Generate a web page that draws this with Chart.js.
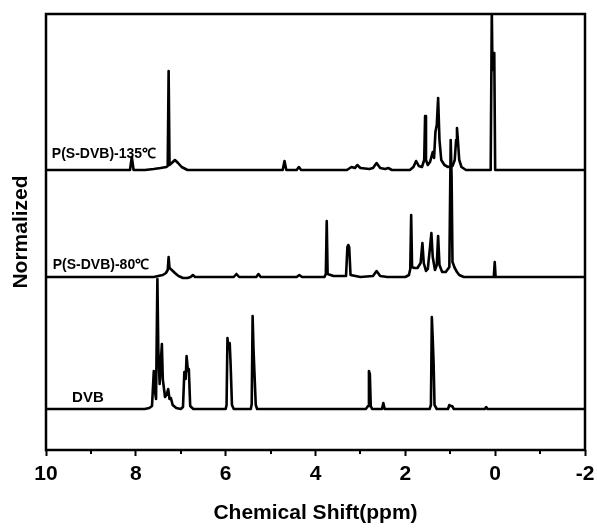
<!DOCTYPE html>
<html>
<head>
<meta charset="utf-8">
<script src="https://cdn.jsdelivr.net/npm/chart.js@4/dist/chart.umd.min.js"></script>
<style>
  html, body { margin: 0; padding: 0; background: #fff; }
  #wrap { width: 597px; height: 529px; }
</style>
</head>
<body>
<div id="wrap"><canvas id="nmrChart"></canvas></div>
<script>
// 1H NMR spectra, [chemical shift (ppm), intensity above baseline]
const dvbSpectrum = [
  [10, 0], [7.8, 0], [7.7, 1], [7.64, 3], [7.6, 38], [7.58, 20], [7.55, 10], [7.52, 130],
  [7.5, 60], [7.47, 25], [7.44, 50], [7.42, 65], [7.4, 30], [7.35, 12], [7.31, 15], [7.28, 20],
  [7.25, 10], [7.22, 11], [7.18, 4], [7.1, 1], [7.0, 0], [6.95, 2], [6.92, 37], [6.89, 30],
  [6.87, 53], [6.84, 38], [6.82, 40], [6.79, 3], [6.72, 0], [6.0, 0], [5.98, 4], [5.96, 71],
  [5.94, 60], [5.91, 66], [5.89, 45], [5.86, 4], [5.82, 0], [5.44, 0], [5.42, 5], [5.4, 93],
  [5.38, 60], [5.36, 37], [5.33, 4], [5.3, 0], [2.88, 0], [2.83, 3], [2.81, 38], [2.79, 35],
  [2.77, 3], [2.74, 0], [2.52, 0], [2.49, 6], [2.46, 0], [1.46, 0], [1.43, 4], [1.41, 92],
  [1.39, 70], [1.37, 45], [1.35, 4], [1.3, 0], [1.05, 0], [1.02, 4], [0.99, 3], [0.96, 3],
  [0.92, 0], [0.23, 0], [0.2, 2], [0.17, 0], [-2, 0]
];

const dvb80Spectrum = [
  [10, 0], [7.6, 0], [7.5, 1], [7.4, 2], [7.33, 4], [7.29, 7], [7.27, 20], [7.25, 9],
  [7.2, 7], [7.13, 4], [7.05, 1], [6.95, -1], [6.85, -1], [6.78, 0], [6.73, 2], [6.68, 0],
  [5.82, 0], [5.76, 3], [5.7, 0], [5.32, 0], [5.27, 3], [5.22, 0], [4.42, 0], [4.36, 2],
  [4.3, 0], [3.8, 0], [3.77, 3], [3.75, 56], [3.73, 3], [3.6, 1], [3.32, 1], [3.29, 30],
  [3.27, 32], [3.25, 30], [3.22, 2], [3.0, 0], [2.72, 1], [2.64, 6], [2.56, 1], [2.4, 0],
  [2.0, 0], [1.92, 2], [1.89, 8], [1.87, 62], [1.85, 10], [1.8, 9], [1.73, 9], [1.66, 14],
  [1.62, 34], [1.59, 14], [1.54, 6], [1.5, 8], [1.45, 30], [1.42, 44], [1.39, 20], [1.34, 7],
  [1.3, 12], [1.27, 41], [1.24, 12], [1.18, 5], [1.1, 5], [1.02, 10], [0.99, 137], [0.97, 100],
  [0.95, 15], [0.9, 9], [0.85, 5], [0.8, 2], [0.7, 0], [0.1, 0], [0.03, 0], [0.01, 15],
  [-0.01, 0], [-0.1, 0], [-2, 0]
];

const dvb135Spectrum = [
  [10, 0], [9.0, 0], [8.3, 0], [8.13, 0], [8.09, 13], [8.05, 0], [7.8, 0], [7.6, 1],
  [7.45, 2], [7.32, 3], [7.29, 4], [7.27, 99], [7.25, 5], [7.2, 7], [7.13, 10], [7.06, 7],
  [6.98, 3], [6.85, 0], [4.73, 0], [4.69, 9], [4.65, 0], [4.42, 0], [4.37, 3], [4.32, 0],
  [3.3, 0], [3.2, 3], [3.12, 2], [3.07, 5], [3.0, 2], [2.8, 1], [2.72, 2], [2.64, 7],
  [2.56, 2], [2.45, 1], [2.38, 2], [2.3, 0], [1.9, 0], [1.82, 3], [1.76, 9], [1.7, 4],
  [1.63, 3], [1.58, 10], [1.56, 54], [1.54, 10], [1.5, 5], [1.45, 8], [1.39, 18], [1.36, 12],
  [1.33, 38], [1.3, 45], [1.27, 72], [1.24, 30], [1.2, 10], [1.13, 5], [1.05, 3], [0.95, 4],
  [0.9, 10], [0.87, 30], [0.85, 42], [0.83, 30], [0.8, 10], [0.75, 3], [0.65, 0], [0.1, 0],
  [0.075, 160], [0.06, 100], [0.04, 117], [0.02, 117], [0.0, 0], [-2, 0]
];

const traceLabels = ['DVB', 'P(S-DVB)-80℃', 'P(S-DVB)-135℃'];
const shiftTicks = [10, 8, 6, 4, 2, 0, -2];
const minorTicks = [9, 7, 5, 3, 1, -1];

// vertical stacking of the three spectra
const offsets = [41, 173, 280];
const labelAt = [[9.42, 7, 15], [9.85, 8, 14], [9.87, 12, 14]];

const font = '"Liberation Sans", Arial, sans-serif';

function stacked(spec, off) {
  return spec.map(p => ({ x: p[0], y: p[1] + off }));
}

const spectra = [dvbSpectrum, dvb80Spectrum, dvb135Spectrum];

const frameAndLabels = {
  id: 'frameAndLabels',
  afterDraw(chart) {
    const { ctx, chartArea: a, scales } = chart;
    ctx.save();
    ctx.strokeStyle = '#000';
    ctx.lineWidth = 2.5;
    ctx.strokeRect(a.left, a.top, a.right - a.left, a.bottom - a.top);
    // minor ticks on the shift axis
    ctx.lineWidth = 2;
    ctx.beginPath();
    minorTicks.forEach(v => {
      const px = Math.round(scales.x.getPixelForValue(v));
      ctx.moveTo(px, a.bottom);
      ctx.lineTo(px, a.bottom + 4);
    });
    ctx.stroke();
    ctx.fillStyle = '#000';
    ctx.textBaseline = 'alphabetic';
    traceLabels.forEach((t, i) => {
      const [ppm, dy, size] = labelAt[i];
      ctx.font = 'bold ' + size + 'px ' + font;
      ctx.fillText(t, scales.x.getPixelForValue(ppm), scales.y.getPixelForValue(offsets[i] + dy));
    });
    ctx.restore();
  }
};

new Chart(document.getElementById('nmrChart'), {
  type: 'line',
  data: {
    datasets: spectra.map((s, i) => ({
      label: traceLabels[i],
      data: stacked(s, offsets[i]),
      borderColor: '#000',
      borderWidth: 2.6,
      borderJoinStyle: 'round',
      pointRadius: 0,
      tension: 0,
      fill: false
    }))
  },
  options: {
    responsive: true,
    maintainAspectRatio: false,
    animation: false,
    layout: { padding: { top: 14, right: 12, left: 0, bottom: 0 } },
    plugins: { legend: { display: false }, tooltip: { enabled: false } },
    scales: {
      x: {
        type: 'linear',
        reverse: true,
        min: -2,
        max: 10,
        afterBuildTicks: s => { s.ticks = shiftTicks.map(v => ({ value: v })); },
        afterFit: s => { s.height = 79; s.paddingLeft = 0; s.paddingRight = 0; },
        ticks: {
          color: '#000',
          padding: 6,
          maxRotation: 0,
          font: { family: font, size: 21, weight: 'bold' },
          callback: v => String(v)
        },
        grid: { drawOnChartArea: false, drawTicks: true, tickLength: 6, tickWidth: 2, tickColor: '#000' },
        border: { display: false },
        title: {
          display: true,
          text: 'Chemical Shift(ppm)',
          color: '#000',
          padding: { bottom: 3 },
          font: { family: font, size: 21, weight: 'bold' }
        }
      },
      y: {
        min: 0,
        max: 436,
        afterFit: s => { s.width = 46; s.paddingTop = 0; s.paddingBottom = 0; },
        ticks: { display: false },
        grid: { display: false },
        border: { display: false },
        title: {
          display: true,
          text: 'Normalized',
          color: '#000',
          padding: { top: 9 },
          font: { family: font, size: 21, weight: 'bold' }
        }
      }
    }
  },
  plugins: [frameAndLabels]
});
</script>
</body>
</html>
